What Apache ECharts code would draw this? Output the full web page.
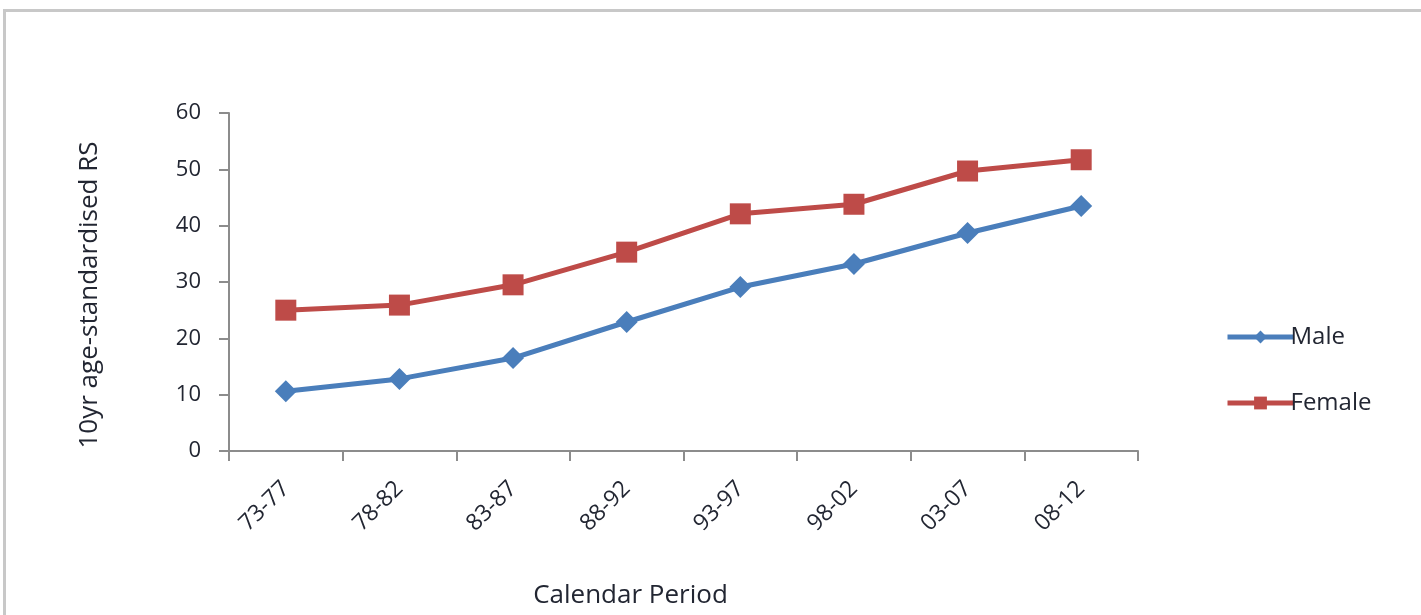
<!DOCTYPE html>
<html><head><meta charset="utf-8">
<script src="https://cdn.jsdelivr.net/npm/echarts@6/dist/echarts.min.js"></script>
<style>
html,body{margin:0;padding:0;background:#fff;}
#frame{position:absolute;left:3px;top:9px;width:1430px;height:620px;border-left:3px solid #c8c8c8;border-top:3px solid #c8c8c8;box-sizing:border-box;}
#c{position:absolute;left:0;top:0;width:1421px;height:615px;}
</style></head>
<body>
<div id="frame"></div>
<div id="c"></div>
<script>
const categories = ['73-77','78-82','83-87','88-92','93-97','98-02','03-07','08-12'];
const male = [10.6, 12.8, 16.5, 22.9, 29.1, 33.2, 38.7, 43.5];
const female = [25.0, 25.9, 29.5, 35.3, 42.1, 43.8, 49.7, 51.7];
const yTicks = {min: 0, max: 60, interval: 10};

const chart = echarts.init(document.getElementById('c'));
const font = 'Open Sans';
const axisColor = '#8c8c8c';
const txt = '#222632';
chart.setOption({
  animation: false,
  textStyle: {fontFamily: font},
  grid: {left: 229, right: 283, top: 113, bottom: 164, containLabel: false},
  legend: {
    orient: 'vertical', left: 1220, top: 320, itemGap: 42,
    itemWidth: 66, itemHeight: 16,
    lineStyle: {width: 5},
    textStyle: {fontSize: 24, color: txt, fontFamily: font, padding: [0,0,0,-8]},
    data: ['Male', 'Female']
  },
  xAxis: {
    type: 'category', data: categories, boundaryGap: true,
    axisLine: {lineStyle: {color: axisColor, width: 2}},
    axisTick: {show: true, length: 10, lineStyle: {color: axisColor, width: 2}},
    axisLabel: {rotate: 45, fontSize: 23, color: txt, margin: 34, fontFamily: font},
    name: 'Calendar Period', nameLocation: 'middle', nameGap: 132,
    nameTextStyle: {fontSize: 26, color: txt, padding: [0, 106, 0, 0], fontFamily: font}
  },
  yAxis: {
    type: 'value', min: yTicks.min, max: yTicks.max, interval: yTicks.interval,
    axisLine: {show: true, lineStyle: {color: axisColor, width: 2}},
    axisTick: {show: true, length: 10, lineStyle: {color: axisColor, width: 2}},
    splitLine: {show: false},
    axisLabel: {fontSize: 22, color: txt, margin: 28, fontFamily: font},
    name: '10yr age-standardised RS', nameLocation: 'middle', nameGap: 126,
    nameTextStyle: {fontSize: 26, color: txt, fontFamily: font, padding: [0, 26, 0, 0]}
  },
  series: [
    {name: 'Male', type: 'line', data: male, symbol: 'diamond', symbolSize: 22,
     lineStyle: {color: '#4a7ebb', width: 5}, itemStyle: {color: '#4a7ebb'}},
    {name: 'Female', type: 'line', data: female, symbol: 'rect', symbolSize: 21,
     lineStyle: {color: '#be4b48', width: 5}, itemStyle: {color: '#be4b48'}}
  ]
});
</script>
</body></html>
